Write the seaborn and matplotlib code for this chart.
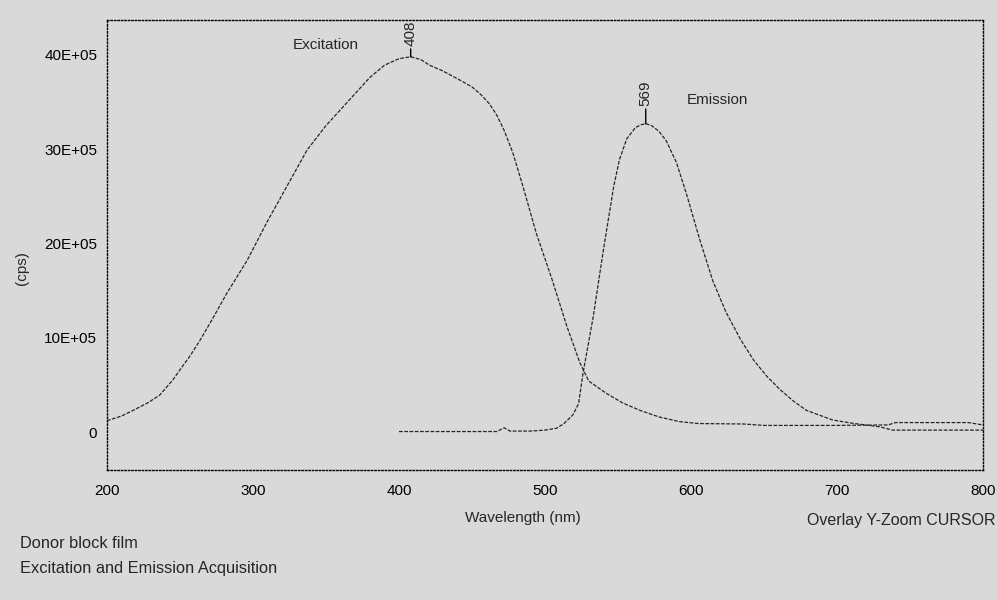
import numpy as np
import pandas as pd
import matplotlib
matplotlib.use("Agg")
import matplotlib.pyplot as plt
import seaborn as sns

# Excitation scan (wavelength in nm, intensity in units of 1E+05 cps)
exc_nm = [200, 210, 218, 228, 236, 245, 250, 257, 264, 273, 282, 296, 309, 323,
          337, 350, 360, 370, 380, 390, 400, 408, 415, 421, 430, 442, 450, 456, 462,
          467, 472, 478, 485, 494, 505, 515, 524, 530, 542, 553, 565, 578, 592, 605,
          636, 650, 700, 735, 740, 790, 800]
exc_val = [1.2, 1.7, 2.3, 3.1, 3.9, 5.5, 6.6, 8.1, 9.8, 12.2, 14.7, 18.2, 22.1, 26.0,
           29.9, 32.5, 34.2, 35.9, 37.6, 38.9, 39.6, 39.8, 39.5, 38.9, 38.3, 37.3, 36.6, 35.8, 34.8,
           33.6, 32.0, 29.6, 26.0, 21.1, 16.1, 11.2, 7.3, 5.4, 4.1, 3.1, 2.3, 1.6, 1.1, 0.9,
           0.85, 0.7, 0.7, 0.75, 1.0, 1.0, 0.75]

# Emission scan
emi_nm = [400, 420, 450, 467, 472, 476, 490, 500, 508, 513, 519, 523, 526, 533,
          540, 547, 551, 556, 562, 566, 569, 573, 578, 583, 590, 597, 606, 615, 624,
          634, 643, 652, 661, 670, 679, 697, 711, 729, 738, 800]
emi_val = [0.05, 0.05, 0.05, 0.05, 0.45, 0.1, 0.1, 0.2, 0.4, 0.9, 1.8, 3.0, 6.2, 12.2,
           19.3, 26.0, 28.9, 31.1, 32.3, 32.6, 32.7, 32.5, 31.9, 30.9, 28.6, 25.2, 20.4, 16.0, 12.7,
           9.8, 7.6, 5.9, 4.5, 3.3, 2.3, 1.27, 0.92, 0.56, 0.2, 0.2]

peaks = {"408": (408, 39.8, 8.0), "569": (569, 32.7, 13.0)}

x_ticks = [200, 300, 400, 500, 600, 700, 800]
y_ticks = [0, 10, 20, 30, 40]
y_tick_labels = ["0", "10E+05", "20E+05", "30E+05", "40E+05"]

sns.set_style("white")
bg = "#d9d9d9"
plt.rcParams["font.family"] = ["Liberation Sans", "DejaVu Sans"]
plt.rcParams["font.size"] = 11

fig = plt.figure(figsize=(9.97, 6.0), dpi=100, facecolor=bg)
ax = fig.add_axes([107 / 997, 1 - 470 / 600, (983 - 107) / 997, (470 - 20) / 600])
ax.set_facecolor(bg)

line_kw = dict(color="#262626", linewidth=0.9, linestyle=(0, (3, 1.2)),
               estimator=None, sort=False, legend=False)
sns.lineplot(data=pd.DataFrame({"nm": exc_nm, "cps": exc_val}), x="nm", y="cps", ax=ax, **line_kw)
sns.lineplot(data=pd.DataFrame({"nm": emi_nm, "cps": emi_val}), x="nm", y="cps", ax=ax, **line_kw)

ax.set_xlim(200, 800)
ax.set_ylim(-4.03, 43.7)
ax.set_xticks(x_ticks)
ax.set_xticklabels([str(t) for t in x_ticks])
ax.set_yticks(y_ticks)
ax.set_yticklabels(y_tick_labels)
ax.tick_params(axis="both", direction="out", length=4, width=1, color="black",
               labelsize=11, labelcolor="black")
ax.tick_params(axis="x", pad=6)
ax.tick_params(axis="y", pad=3)
ax.set_xlabel("")
ax.set_ylabel("")

for s in ax.spines.values():
    s.set_visible(True)
    s.set_color("black")
    s.set_linewidth(1.0)
    s.set_linestyle((0, (1, 1.5)))

# Peak markers
for label, (px, py, off) in peaks.items():
    ax.annotate(label, xy=(px, py), xytext=(0, off), textcoords="offset points",
                rotation=90, ha="center", va="bottom", fontsize=11,
                arrowprops=dict(arrowstyle="-", color="black", lw=1,
                                shrinkA=0, shrinkB=0))

ax.text(350, 41.1, "Excitation", ha="center", va="center", fontsize=11)
ax.text(618, 35.2, "Emission", ha="center", va="center", fontsize=11)

fig.text(523 / 997, 1 - 518 / 600, "Wavelength (nm)", ha="center", va="center", fontsize=11)
fig.text(22 / 997, 1 - 268 / 600, "(cps)", ha="center", va="center", rotation=90, fontsize=11)
fig.text(995 / 997, 1 - 520 / 600, "Overlay Y-Zoom CURSOR", ha="right", va="center", fontsize=11.5)
fig.text(20 / 997, 1 - 544 / 600, "Donor block film", ha="left", va="center", fontsize=11.8)
fig.text(20 / 997, 1 - 568 / 600, "Excitation and Emission Acquisition", ha="left", va="center", fontsize=11.8)

fig.savefig("out.png", dpi=100, facecolor=bg)
